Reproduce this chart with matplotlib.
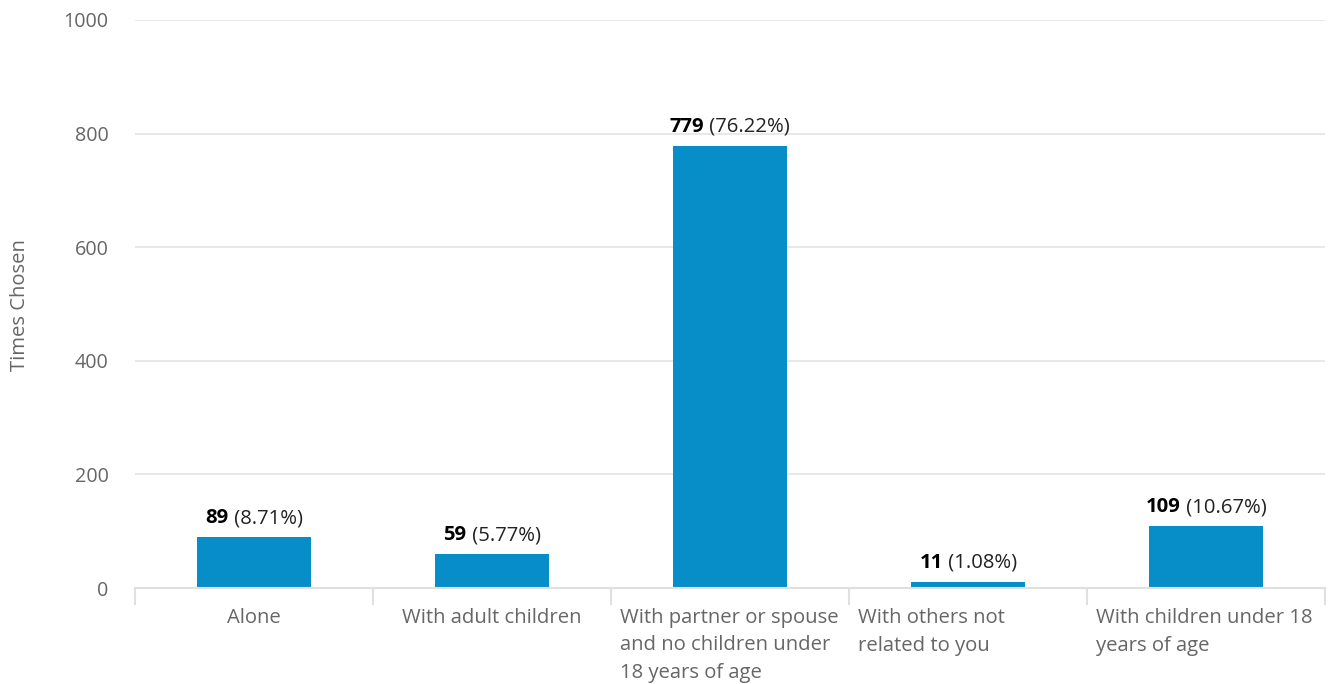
import matplotlib
matplotlib.use("Agg")
import matplotlib.pyplot as plt
import numpy as np

categories = [
    "Alone",
    "With adult children",
    "With partner or spouse\nand no children under\n18 years of age",
    "With others not\nrelated to you",
    "With children under 18\nyears of age",
]
counts = [89, 59, 779, 11, 109]
percents = ["8.71%", "5.77%", "76.22%", "1.08%", "10.67%"]
yticks = [0, 200, 400, 600, 800, 1000]

BAR = "#078dc7"
GRID = "#e6e6e6"
AXIS_TXT = "#666666"
FS = 14.6

plt.rcParams["font.family"] = ["Open Sans", "DejaVu Sans"]

fig = plt.figure(figsize=(13.28, 6.84), dpi=100)
ax = fig.add_axes([135 / 1328, 1 - 588 / 684, (1325 - 135) / 1328, (588 - 20) / 684])

x = np.arange(len(categories))
ax.bar(x, counts, width=0.475, color=BAR, zorder=3)

ax.set_xlim(-0.5, len(categories) - 0.5)
ax.set_ylim(0, 1000)
ax.set_yticks(yticks)
ax.set_yticklabels([str(v) for v in yticks], fontsize=14.2, color=AXIS_TXT)
ax.tick_params(axis="y", length=0, pad=19)
ax.grid(axis="y", color=GRID, linewidth=1.3, zorder=0)
for s in ["left", "right", "top"]:
    ax.spines[s].set_visible(False)
ax.spines["bottom"].set_color("#e0e0e0")
ax.spines["bottom"].set_linewidth(1.5)
ax.spines["bottom"].set_zorder(4)

# category separators under the baseline
ax.set_xticks(np.arange(-0.5, len(categories)), minor=False)
ax.set_xticklabels([])
ax.tick_params(axis="x", length=12.5, width=1.5, color="#e0e0e0")

fig.text(20 / 1328, 1 - 305 / 684, "Times Chosen", rotation=90, ha="center",
         va="center", fontsize=FS, color=AXIS_TXT)

# category labels: single line centred, wrapped labels left-aligned in their slot
trans = ax.get_xaxis_transform()
for i, lab in enumerate(categories):
    if "\n" in lab:
        ax.annotate(lab, xy=(i - 0.5, 0), xycoords=trans, xytext=(9, -20),
                    textcoords="offset pixels", ha="left", va="top",
                    fontsize=FS, color=AXIS_TXT, linespacing=1.5)
    else:
        ax.annotate(lab, xy=(i, 0), xycoords=trans, xytext=(0, -20),
                    textcoords="offset pixels", ha="center", va="top",
                    fontsize=FS, color=AXIS_TXT)

# value labels: bold count followed by regular percentage, centred over bar
renderer = fig.canvas.get_renderer()
for i, (c, p) in enumerate(zip(counts, percents)):
    t1 = ax.annotate(str(c), xy=(i, c), xytext=(0, 9), textcoords="offset pixels",
                     ha="left", va="bottom", fontsize=FS, fontweight="bold",
                     color="#000000")
    t2 = ax.annotate(f" ({p})", xy=(i, c), xytext=(0, 9), textcoords="offset pixels",
                     ha="left", va="bottom", fontsize=FS, color="#222222")
    w1 = t1.get_window_extent(renderer).width
    w2 = t2.get_window_extent(renderer).width
    start = -(w1 + w2) / 2
    t1.set_position((start, 9))
    t2.set_position((start + w1, 9))

fig.savefig("out.png", dpi=100, facecolor="white")
